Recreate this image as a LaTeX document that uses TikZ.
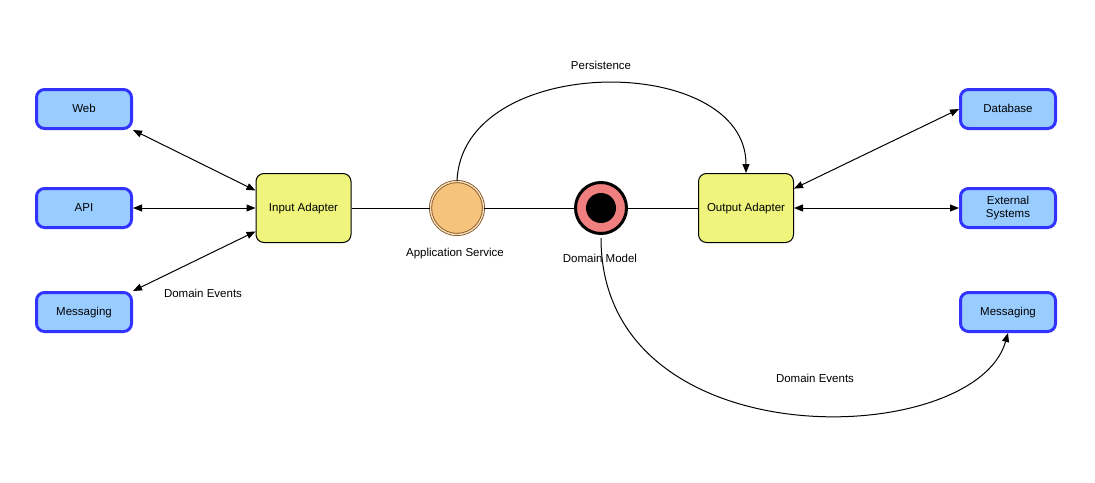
\documentclass[tikz,border=0pt]{standalone}
\usepackage{fontspec}
\setmainfont{Liberation Sans}
\usetikzlibrary{arrows.meta}

\definecolor{portfill}{HTML}{99CCFF}
\definecolor{portdraw}{HTML}{3333FF}
\definecolor{adapterfill}{HTML}{EFF57C}
\definecolor{servicefill}{HTML}{F5C37C}
\definecolor{servicedraw}{HTML}{7A4E22}
\definecolor{modelfill}{HTML}{F08080}

\begin{document}
\begin{tikzpicture}[x=1pt, y=-1pt,
  font=\fontsize{11.5}{13.5}\selectfont,
  port/.style={draw=portdraw, fill=portfill, line width=3pt, rounded corners=8pt, minimum width=95pt, minimum height=39pt, align=center, text height=10pt, text depth=2.5pt},
  adapter/.style={draw, fill=adapterfill, line width=1pt, rounded corners=8pt, minimum width=95pt, minimum height=69pt, text height=10pt, text depth=2.5pt},
  link/.style={line width=1pt, {Triangle[length=9pt,width=7pt]}-{Triangle[length=9pt,width=7pt]}},
  flow/.style={line width=1pt, -{Triangle[length=9pt,width=7pt]}}]

\def\lx{84}
\def\rx{1008}

\path [use as bounding box] (0,0) rectangle (1095,482);

% PORTS
\node [port] (web) at (\lx,109) {Web};
\node [port] (api) at (\lx,208) {API};
\node [port] (inmsg) at (\lx,312) {Messaging};
\node [port] (db) at (\rx,109) {Database};
\node [port, text height=, text depth=] (ext) at (\rx,208) {External\\Systems};
\node [port] (outmsg) at (\rx,312) {Messaging};

% ADAPTERS
\node [adapter] (in) at (303.5,208) {Input Adapter};
\node [adapter] (out) at (746,208) {Output Adapter};

% CORE
\node [circle, draw=servicedraw, double=servicefill!55!white, double distance=1.4pt, line width=0.8pt, fill=servicefill, minimum size=53pt, inner sep=0pt] (app) at (457,208) {};
\node [circle, draw, line width=3pt, fill=modelfill, minimum size=51pt, inner sep=0pt] (model) at (601,208) {};
\node [circle, fill=black, minimum size=30pt, inner sep=0pt] (core) at (model) {};

\draw [line width=1pt] (in) -- (app);
\draw [line width=1pt] (app) -- (model);
\draw [line width=1pt] (model) -- (out);

% LINKS
\draw [link] (web.south east) -- (in.160);
\draw [link] (api) -- (in);
\draw [link] (inmsg.north east) -- (in.206);
\draw [link] (out.22) -- (db.west);
\draw [link] (out) -- (ext);

% FLOWS
\draw [flow] (app.north) .. controls (462,52) and (746,52) .. (out.north);
\draw [flow] ([yshift=-3pt]model.south) .. controls (601,462) and (975,450) .. (outmsg.south);

% LABELS
\node (applabel) at (455,253.5) {Application Service};
\node (modellabel) at (600,258) {Domain Model};
\node (persist) at (601,65) {Persistence};
\node (inevents) at (203,293.5) {Domain Events};
\node (outevents) at (815,378.5) {Domain Events};

\end{tikzpicture}
\end{document}
